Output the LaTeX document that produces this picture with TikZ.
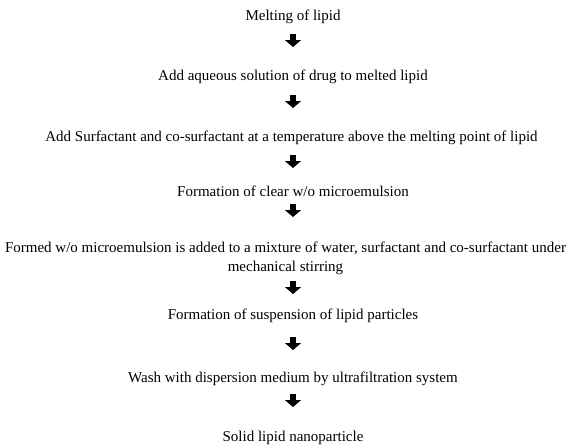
\documentclass[tikz,border=0pt]{standalone}
\usepackage{fontspec}
\setmainfont{Liberation Serif}
\usetikzlibrary{arrows.meta}
\tikzset{
  steptext/.style={anchor=base, inner sep=0pt, font=\fontsize{15}{18.5}\selectfont, align=center},
  blk/.style={line width=6pt, -{Triangle[width=16pt,length=7pt]}}
}
\begin{document}
\begin{tikzpicture}[x=1pt,y=-1pt]
\useasboundingbox (0,0) rectangle (572,445);
\node[steptext] (s1) at (293,20) {Melting of lipid};
\node[steptext] (s2) at (293,80) {Add aqueous solution of drug to melted lipid};
\node[steptext] (s3) at (291.5,141) {Add Surfactant and co-surfactant at a temperature above the melting point of lipid};
\node[steptext] (s4) at (293,196) {Formation of clear w/o microemulsion};
\node[steptext] (s5) at (285.5,271) {Formed w/o microemulsion is added to a mixture of water, surfactant and co-surfactant under\\mechanical stirring};
\node[steptext] (s6) at (293,319) {Formation of suspension of lipid particles};
\node[steptext] (s7) at (293,382) {Wash with dispersion medium by ultrafiltration system};
\node[steptext] (s8) at (293,441) {Solid lipid nanoparticle};
\coordinate (a1t) at (293,34); \coordinate (a1b) at (293,47);
\coordinate (a2t) at (293,95); \coordinate (a2b) at (293,108);
\coordinate (a3t) at (293,155); \coordinate (a3b) at (293,168);
\coordinate (a4t) at (293,204); \coordinate (a4b) at (293,217);
\coordinate (a5t) at (293,281); \coordinate (a5b) at (293,294);
\coordinate (a6t) at (293,337); \coordinate (a6b) at (293,350);
\coordinate (a7t) at (293,394); \coordinate (a7b) at (293,407);
\draw[blk] (a1t) -- (a1b);
\draw[blk] (a2t) -- (a2b);
\draw[blk] (a3t) -- (a3b);
\draw[blk] (a4t) -- (a4b);
\draw[blk] (a5t) -- (a5b);
\draw[blk] (a6t) -- (a6b);
\draw[blk] (a7t) -- (a7b);
\end{tikzpicture}
\end{document}
